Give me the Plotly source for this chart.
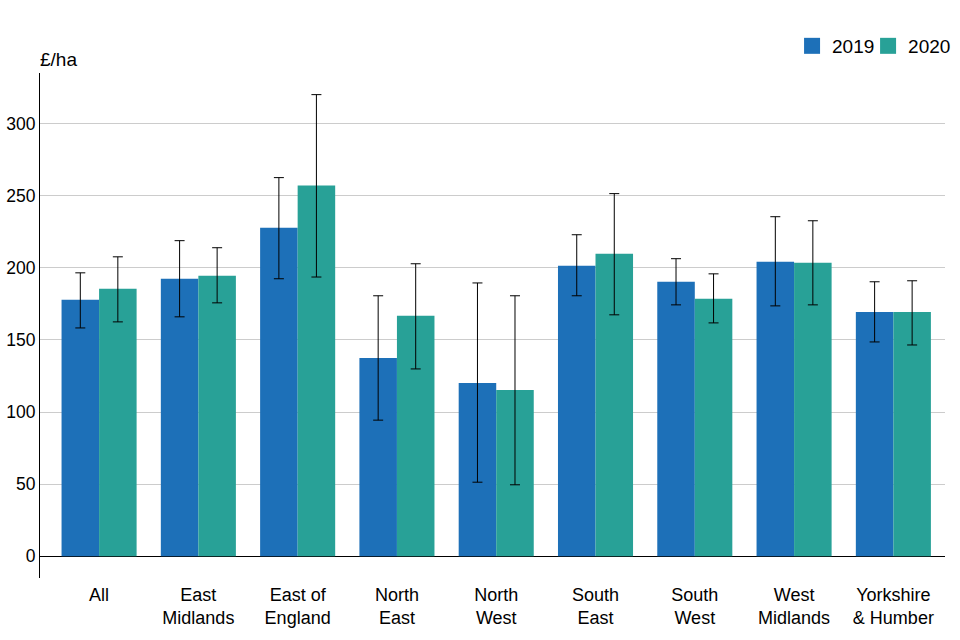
import plotly.graph_objects as go

categories = ["All", "East<br>Midlands", "East of<br>England", "North<br>East", "North<br>West",
              "South<br>East", "South<br>West", "West<br>Midlands", "Yorkshire<br>& Humber"]

val_2019 = [177.8, 192.4, 227.8, 137.5, 120.1, 201.4, 190.3, 204.2, 169.4]
low_2019 = [158.3, 166.0, 192.4, 94.4, 51.4, 180.6, 174.3, 173.6, 148.6]
high_2019 = [196.5, 218.8, 262.5, 180.6, 189.5, 222.9, 206.3, 235.4, 190.3]

val_2020 = [185.4, 194.4, 257.0, 166.7, 115.3, 209.7, 178.5, 203.5, 169.4]
low_2020 = [162.5, 175.7, 193.6, 129.9, 49.6, 167.4, 161.8, 174.3, 146.5]
high_2020 = [207.6, 213.9, 320.0, 202.8, 180.6, 251.4, 195.8, 232.6, 191.0]

series = [
    ("2019", val_2019, low_2019, high_2019, "#1d70b8", "legend", 0.8310),
    ("2020", val_2020, low_2020, high_2020, "#28a197", "legend2", 0.9150),
]

FONT = "Liberation Sans, Arial, sans-serif"

fig = go.Figure()
for name, vals, lows, highs, color, leg, lx in series:
    fig.add_trace(go.Bar(
        x=categories, y=vals, name=name, marker_color=color, marker_line_width=0,
        showlegend=False,
        error_y=dict(type="data", symmetric=False,
                     array=[h - v for h, v in zip(highs, vals)],
                     arrayminus=[v - l for v, l in zip(vals, lows)],
                     color="black", thickness=1, width=5),
    ))
for name, vals, lows, highs, color, leg, lx in series:
    fig.add_trace(go.Scatter(
        x=[None], y=[None], mode="markers", name=name, legend=leg,
        marker=dict(symbol="square", size=16, color=color),
    ))

legend_common = dict(orientation="h", xanchor="left", y=1.0535, yanchor="middle",
                     font=dict(size=19), itemwidth=30, borderwidth=0,
                     bgcolor="rgba(0,0,0,0)")

fig.update_layout(
    width=960, height=640,
    margin=dict(l=40, r=15, t=73, b=62, autoexpand=False),
    paper_bgcolor="white", plot_bgcolor="white",
    barmode="group", bargap=0.244, bargroupgap=0,
    font=dict(family=FONT, size=18, color="black"),
    legend=dict(x=series[0][6], **legend_common),
    legend2=dict(x=series[1][6], **legend_common),
    annotations=[dict(text="£/ha", xref="paper", yref="paper", x=0, y=1,
                      xanchor="left", yanchor="bottom", yshift=1, xshift=-2,
                      showarrow=False, font=dict(size=19))],
)
fig.update_xaxes(range=[-0.595, 8.52], showgrid=False, showline=False, ticks="",
                 tickfont=dict(size=18), automargin=False, ticklabelstandoff=4)
fig.update_yaxes(range=[-15, 335], tickvals=[0, 50, 100, 150, 200, 250, 300],
                 showgrid=True, gridcolor="#cccccc", gridwidth=1,
                 zeroline=True, zerolinecolor="black", zerolinewidth=1,
                 showline=True, linecolor="black", linewidth=1, ticks="",
                 tickfont=dict(size=17.5), automargin=False)

fig.write_html("out.html", config={"displayModeBar": False},
               post_script="document.body.style.margin='0';")
